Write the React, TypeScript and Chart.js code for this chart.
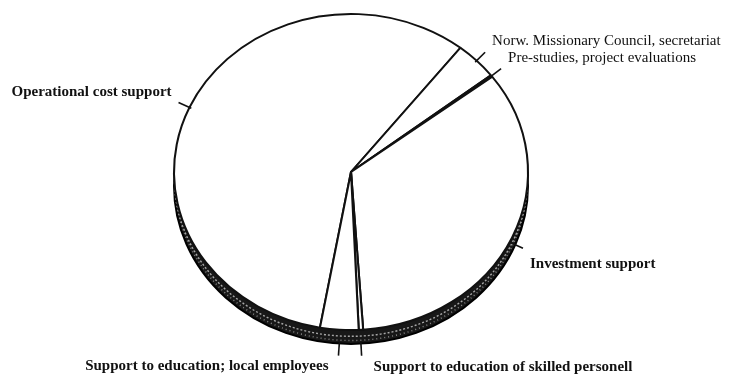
import React, { useEffect, useRef } from "react";
import { Chart, registerables } from "chart.js";

Chart.register(...registerables);

// ---- data ----
const categories: string[] = [
  "Operational cost support",
  "Norw. Missionary Council, secretariat",
  "Pre-studies, project evaluations",
  "Investment support",
  "Support to education of skilled personell",
  "Support to education; local employees",
];
const shares: number[] = [57.8, 3.9, 0.2, 34.2, 0.4, 3.5];
const startAngleDeg = 190.1;

// ---- layout / style (not data) ----
const CX = 351;
const CY = 172;
const RX = 177;
const RY = 158;
const DEPTH = 14;
const BOLD = "bold 15px 'Liberation Serif'";
const REG = "15px 'Liberation Serif'";
const labelStyle = [
  { align: "right", dx: -7, dy: -10, font: BOLD },
  { align: "left", dx: 7, dy: -11, font: REG },
  { align: "left", dx: 7, dy: -11, font: REG },
  { align: "left", dx: 7, dy: 16, font: BOLD },
  { align: "left", dx: 12, dy: 11, font: BOLD },
  { align: "right", dx: -10, dy: 11, font: BOLD },
];

const tiltPlugin = {
  id: "tilt",
  beforeDatasetsDraw(chart: any) {
    const arc = chart.getDatasetMeta(0).data[0];
    if (!arc) return;
    const { x, y, outerRadius } = arc.getProps(["x", "y", "outerRadius"], true);
    const ctx: CanvasRenderingContext2D = chart.ctx;
    // 3D side band
    ctx.save();
    ctx.beginPath();
    ctx.ellipse(CX, CY + DEPTH, RX, RY, 0, 0, Math.PI * 2);
    ctx.fillStyle = "#181818";
    ctx.fill();
    ctx.lineWidth = 2;
    ctx.strokeStyle = "#000";
    ctx.stroke();
    ctx.setLineDash([2, 2]);
    ctx.strokeStyle = "#a8a8a8";
    ctx.lineWidth = 1.4;
    ctx.beginPath();
    ctx.ellipse(CX, CY + DEPTH * 0.45, RX - 0.5, RY, 0, 0, Math.PI * 2);
    ctx.stroke();
    ctx.setLineDash([1, 3]);
    ctx.strokeStyle = "#8a8a8a";
    ctx.beginPath();
    ctx.ellipse(CX, CY + DEPTH * 0.75, RX - 1, RY, 0, 0, Math.PI * 2);
    ctx.stroke();
    ctx.restore();
    // tilt transform for the pie
    ctx.save();
    ctx.translate(CX, CY);
    ctx.scale(RX / outerRadius, RY / outerRadius);
    ctx.translate(-x, -y);
  },
  afterDatasetsDraw(chart: any) {
    const ctx: CanvasRenderingContext2D = chart.ctx;
    ctx.restore();
    const arcs = chart.getDatasetMeta(0).data;
    arcs.forEach((arc: any, i: number) => {
      const { startAngle, endAngle } = arc.getProps(["startAngle", "endAngle"], true);
      const mid = (startAngle + endAngle) / 2;
      const c = Math.cos(mid);
      const s = Math.sin(mid);
      const ex = CX + RX * c;
      const ey = CY + RY * s + DEPTH * Math.max(0, s);
      const x0 = ex - 2 * c;
      const y0 = ey - 2 * s;
      const x1 = ex + 12 * c;
      const y1 = ey + 12 * s;
      ctx.save();
      ctx.beginPath();
      ctx.moveTo(x0, y0);
      ctx.lineTo(x1, y1);
      ctx.strokeStyle = "#111";
      ctx.lineWidth = 1.6;
      ctx.stroke();
      const st = labelStyle[i];
      ctx.font = st.font;
      ctx.fillStyle = "#111";
      ctx.textAlign = st.align as CanvasTextAlign;
      ctx.textBaseline = "middle";
      ctx.fillText(categories[i], x1 + st.dx, y1 + st.dy);
      ctx.restore();
    });
  },
};

export default function App() {
  const ref = useRef<HTMLCanvasElement>(null);
  useEffect(() => {
    if (!ref.current) return;
    const chart = new Chart(ref.current, {
      type: "pie",
      data: {
        labels: categories,
        datasets: [
          {
            data: shares,
            backgroundColor: "#ffffff",
            borderColor: "#111111",
            borderWidth: 2,
            hoverOffset: 0,
          },
        ],
      },
      options: {
        animation: false,
        responsive: true,
        maintainAspectRatio: false,
        rotation: startAngleDeg,
        layout: { padding: { left: 179, right: 221, top: 0, bottom: 32 } },
        plugins: {
          legend: { display: false },
          tooltip: { enabled: false },
        },
      },
      plugins: [tiltPlugin],
    });
    return () => chart.destroy();
  }, []);
  return (
    <div style={{ position: "absolute", left: 0, top: 0, width: 744, height: 376, background: "#fff" }}>
      <canvas ref={ref} />
    </div>
  );
}
